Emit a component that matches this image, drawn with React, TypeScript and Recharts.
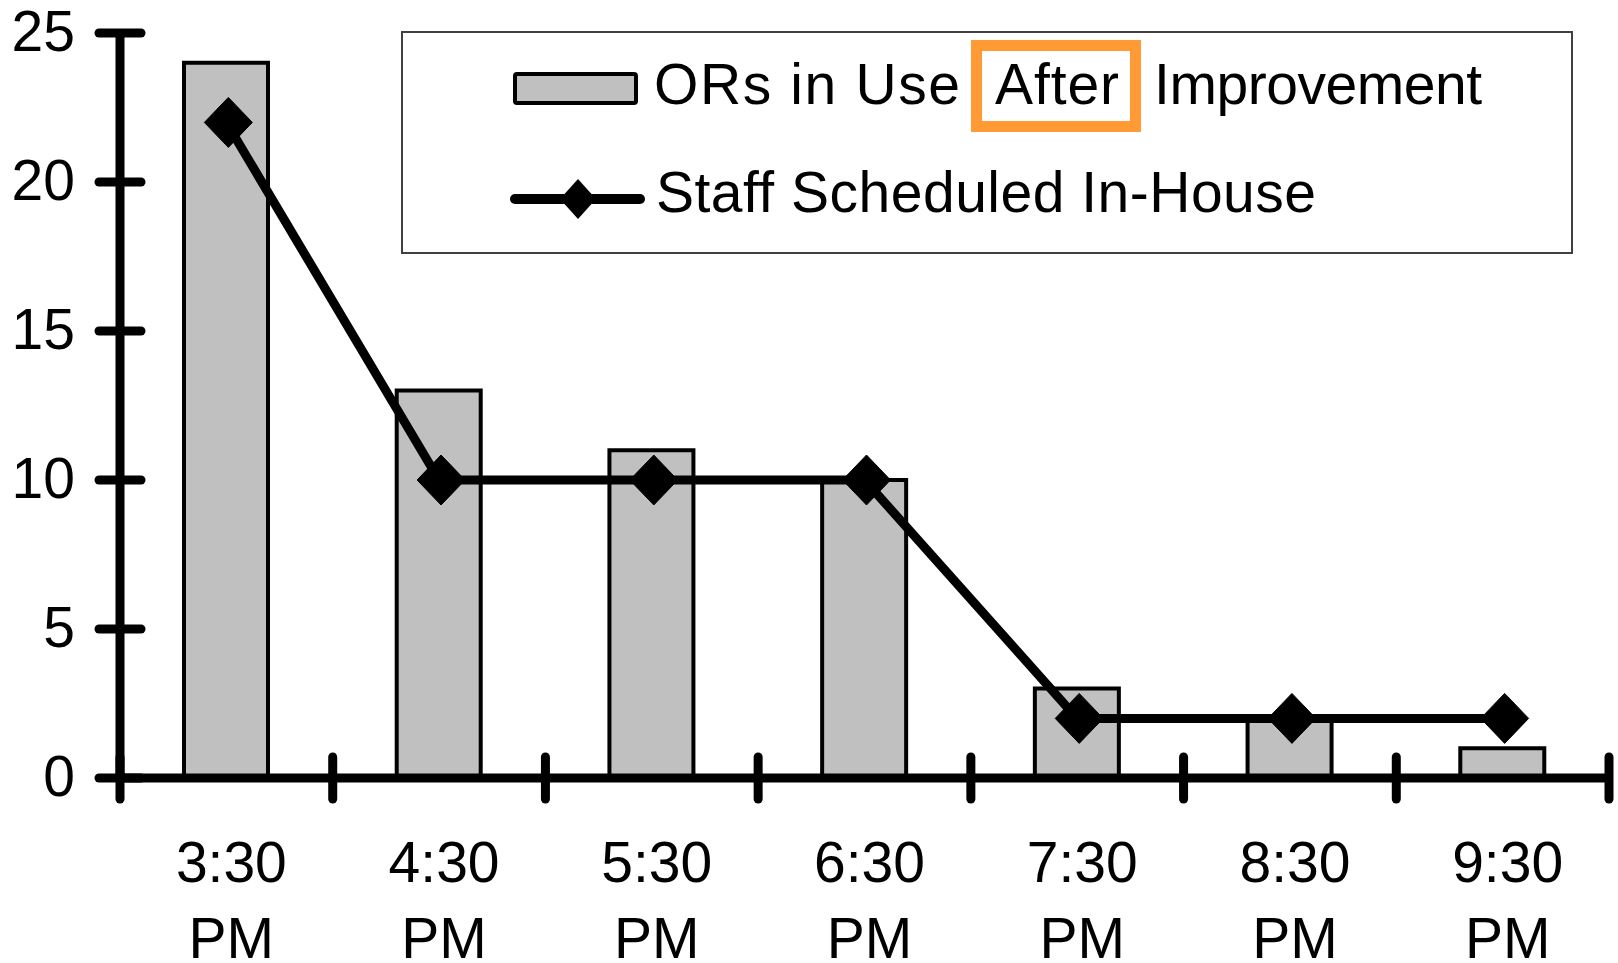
import React from 'react';
import { ComposedChart, Bar, Line, XAxis, YAxis, Legend } from 'recharts';

const categories = ['3:30 PM', '4:30 PM', '5:30 PM', '6:30 PM', '7:30 PM', '8:30 PM', '9:30 PM'];
const orsInUse = [24, 13, 11, 10, 3, 2, 1];
const staffScheduled = [22, 10, 10, 10, 2, 2, 2];
const yTicks = [0, 5, 10, 15, 20, 25];
const barSeriesName = 'ORs in Use After Improvement';
const lineSeriesName = 'Staff Scheduled In-House';

const data = categories.map((c, i) => ({ time: c, ors: orsInUse[i], staff: staffScheduled[i] }));

const W = 1618;
const H = 963;
const MARGIN = { top: 33, right: 9, bottom: 0, left: 0 };
const Y_AXIS_W = 120;
const X_AXIS_H = 185;
const PLOT_W = W - MARGIN.left - MARGIN.right - Y_AXIS_W;
const BAND = PLOT_W / categories.length;
const FONT = '"Liberation Sans", Arial, Helvetica, sans-serif';
const FS = 57;

const YTick = (props: any) => {
  const { x, y, payload } = props;
  return (
    <g>
      <line x1={x - 21} x2={x + 21} y1={y} y2={y} stroke="#000" strokeWidth={9} strokeLinecap="round" />
      <text x={x - 45} y={y + 18} textAnchor="end" fontFamily={FONT} fontSize={FS} fill="#000">
        {payload.value}
      </text>
    </g>
  );
};

const XTick = (props: any) => {
  const { x, y, payload, index } = props;
  const parts = String(payload.value).split(' ');
  const half = BAND / 2;
  return (
    <g>
      <line x1={x - half} x2={x - half} y1={y - 21} y2={y + 21} stroke="#000" strokeWidth={9} strokeLinecap="round" />
      {index === categories.length - 1 && (
        <line x1={x + half} x2={x + half} y1={y - 21} y2={y + 21} stroke="#000" strokeWidth={9} strokeLinecap="round" />
      )}
      <text x={x + 5} y={y + 104} textAnchor="middle" fontFamily={FONT} fontSize={FS} fill="#000">
        {parts[0]}
      </text>
      <text x={x + 5} y={y + 180} textAnchor="middle" fontFamily={FONT} fontSize={FS} fill="#000">
        {parts[1]}
      </text>
    </g>
  );
};

const Diamond = (props: any) => {
  const { cx, cy } = props;
  if (cx == null || cy == null) return null;
  return (
    <path
      d={`M${cx + 2},${cy - 25} L${cx + 26},${cy} L${cx + 2},${cy + 25} L${cx - 22},${cy} Z`}
      fill="#000"
      stroke="#000"
      strokeWidth={1}
      strokeLinejoin="round"
    />
  );
};

const renderLegend = () => {
  const words = barSeriesName.split(' ');
  const first = words.slice(0, 3).join(' ');
  const mid = words[3];
  const last = words[4];
  return (
    <svg width={W} height={270} style={{ display: 'block' }}>
      <rect x={402} y={32} width={1170} height={221} fill="#fff" stroke="#404040" strokeWidth={2} />
      <rect x={515} y={74} width={121} height={29} fill="#c0c0c0" stroke="#000" strokeWidth={4} rx={2} />
      <text x={654} y={104} fontFamily={FONT} fontSize={FS} fill="#000" textLength={306} lengthAdjust="spacing">{first}</text>
      <rect x={976.5} y={45.5} width={159} height={81} fill="none" stroke="#ff9a35" strokeWidth={11} />
      <text x={995} y={104} fontFamily={FONT} fontSize={FS} fill="#000" textLength={124} lengthAdjust="spacing">{mid}</text>
      <text x={1154} y={104} fontFamily={FONT} fontSize={FS} fill="#000" textLength={328} lengthAdjust="spacing">{last}</text>
      <line x1={515} x2={640} y1={199} y2={199} stroke="#000" strokeWidth={10} strokeLinecap="round" />
      <path d="M578,179 L596,199 L578,219 L560,199 Z" fill="#000" />
      <text x={656} y={212} fontFamily={FONT} fontSize={FS} fill="#000" textLength={660} lengthAdjust="spacing">{lineSeriesName}</text>
    </svg>
  );
};

export default function App() {
  return (
    <div style={{ position: 'absolute', left: 0, top: 0, width: W, height: H, background: '#fff' }}>
      <ComposedChart width={W} height={H} data={data} margin={MARGIN}>
        <Bar
          dataKey="ors"
          name={barSeriesName}
          fill="#c0c0c0"
          stroke="#000"
          strokeWidth={4}
          barSize={84}
          isAnimationActive={false}
        />
        <Line
          dataKey="staff"
          name={lineSeriesName}
          type="linear"
          stroke="#000"
          strokeWidth={9}
          dot={<Diamond />}
          activeDot={false}
          isAnimationActive={false}
        />
        <XAxis
          dataKey="time"
          type="category"
          height={X_AXIS_H}
          interval={0}
          tickLine={false}
          tickSize={0}
          tickMargin={0}
          axisLine={{ stroke: '#000', strokeWidth: 9 }}
          tick={<XTick />}
        />
        <YAxis
          type="number"
          domain={[0, 25]}
          ticks={yTicks}
          interval={0}
          width={Y_AXIS_W}
          tickLine={false}
          tickSize={0}
          tickMargin={0}
          axisLine={{ stroke: '#000', strokeWidth: 9 }}
          tick={<YTick />}
        />
        <Legend
          layout="horizontal"
          verticalAlign="middle"
          align="center"
          content={renderLegend}
          wrapperStyle={{ position: 'absolute', left: 0, top: 0, width: W, height: 270, pointerEvents: 'none' }}
        />
      </ComposedChart>
    </div>
  );
}
